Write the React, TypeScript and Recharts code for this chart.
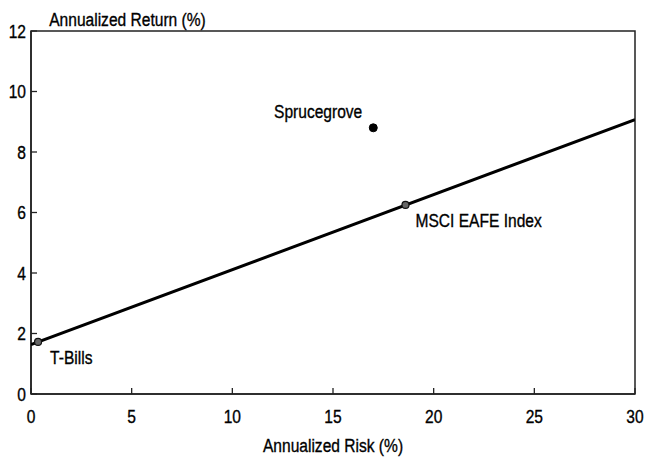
import React from 'react';
import { ComposedChart, Scatter, XAxis, YAxis, ReferenceArea, Label } from 'recharts';

const pointNames = ['T-Bills', 'Sprucegrove', 'MSCI EAFE Index'];
const riskValues = [0.35, 17.0, 18.6];
const returnValues = [1.72, 8.8, 6.25];

const lineRisk = [0, 30];
const lineReturn = [1.63, 9.07];

const xTicks = [0, 5, 10, 15, 20, 25, 30];
const yTicks = [0, 2, 4, 6, 8, 10, 12];

const xTitle = 'Annualized Risk (%)';
const yTitle = 'Annualized Return (%)';

const FONT = "'Liberation Sans', Arial, sans-serif";
const FS = 19;
const SQUEEZE = 0.82;

// label placement styling (not data)
const labelStyle: Record<string, { dx: number; dy: number; anchor: 'start' | 'end'; filled: boolean }> = {
  'T-Bills': { dx: 12, dy: 22, anchor: 'start', filled: false },
  Sprucegrove: { dx: -11, dy: -10, anchor: 'end', filled: true },
  'MSCI EAFE Index': { dx: 10, dy: 22, anchor: 'start', filled: false },
};

const points = pointNames.map((name, i) => ({ name, risk: riskValues[i], ret: returnValues[i] }));
const lineData = lineRisk.map((r, i) => ({ risk: r, ret: lineReturn[i] }));

const NarrowText = ({ x, y, anchor, children, dy }: any) => (
  <text
    transform={`translate(${x},${y}) scale(${SQUEEZE},1)`}
    x={0}
    y={0}
    dy={dy}
    textAnchor={anchor}
    fontFamily={FONT}
    fontSize={FS}
    fill="#000"
    stroke="#000"
    strokeWidth={0.35}
  >
    {children}
  </text>
);

const PointShape = (props: any) => {
  const { cx, cy, payload } = props;
  const st = labelStyle[payload.name];
  return (
    <g>
      {st.filled ? (
        <circle cx={cx} cy={cy} r={4} fill="#000" stroke="#000" />
      ) : (
        <circle cx={cx} cy={cy} r={3.5} fill="#666" stroke="#111" strokeWidth={1.2} />
      )}
      <NarrowText x={cx + st.dx} y={cy + st.dy} anchor={st.anchor}>
        {payload.name}
      </NarrowText>
    </g>
  );
};

const YTick = (props: any) => {
  const { x, y, payload } = props;
  return (
    <g>
      <line x1={x + 5} x2={x + 11} y1={y} y2={y} stroke="#222" strokeWidth={1.3} />
      <NarrowText x={x} y={y} dy="0.36em" anchor="end">
        {payload.value}
      </NarrowText>
    </g>
  );
};

const XTick = (props: any) => {
  const { x, y, payload } = props;
  return (
    <g>
      <line x1={x} x2={x} y1={y} y2={y - 6} stroke="#222" strokeWidth={1.3} />
      <NarrowText x={x} y={y + 29} anchor="middle">
        {payload.value}
      </NarrowText>
    </g>
  );
};

export default function App() {
  return (
    <div style={{ position: 'absolute', left: 0, top: 0, width: 646, height: 468, background: '#fff' }}>
      <ComposedChart width={646} height={468} margin={{ top: 31, right: 11, bottom: 0, left: 0 }}>
        <XAxis
          type="number"
          dataKey="risk"
          domain={[0, 30]}
          ticks={xTicks}
          height={74}
          tickSize={0}
          tickMargin={0}
          tick={<XTick />}
          axisLine={{ stroke: '#222', strokeWidth: 1.5 }}
          tickLine={false}
          allowDataOverflow
        >
          <Label
            content={(p: any) => {
              const vb = p.viewBox;
              return (
                <NarrowText x={vb.x + vb.width / 2} y={vb.y + 58} anchor="middle">
                  {xTitle}
                </NarrowText>
              );
            }}
          />
        </XAxis>
        <YAxis
          type="number"
          dataKey="ret"
          domain={[0, 12]}
          ticks={yTicks}
          width={31}
          tickSize={0}
          tickMargin={5}
          tick={<YTick />}
          axisLine={{ stroke: '#222', strokeWidth: 1.5 }}
          tickLine={false}
          allowDataOverflow
        >
          <Label
            content={(p: any) => {
              const vb = p.viewBox;
              return (
                <NarrowText x={127.5} y={vb.y - 5} anchor="middle">
                  {yTitle}
                </NarrowText>
              );
            }}
          />
        </YAxis>
        <ReferenceArea x1={0} x2={30} y1={0} y2={12} fill="none" stroke="#222" strokeWidth={1.5} ifOverflow="visible" />
        <Scatter
          data={lineData}
          dataKey="ret"
          line={{ stroke: '#000', strokeWidth: 3 }}
          shape={() => <g />}
          isAnimationActive={false}
        />
        <Scatter data={points} dataKey="ret" shape={<PointShape />} isAnimationActive={false} />
      </ComposedChart>
    </div>
  );
}
